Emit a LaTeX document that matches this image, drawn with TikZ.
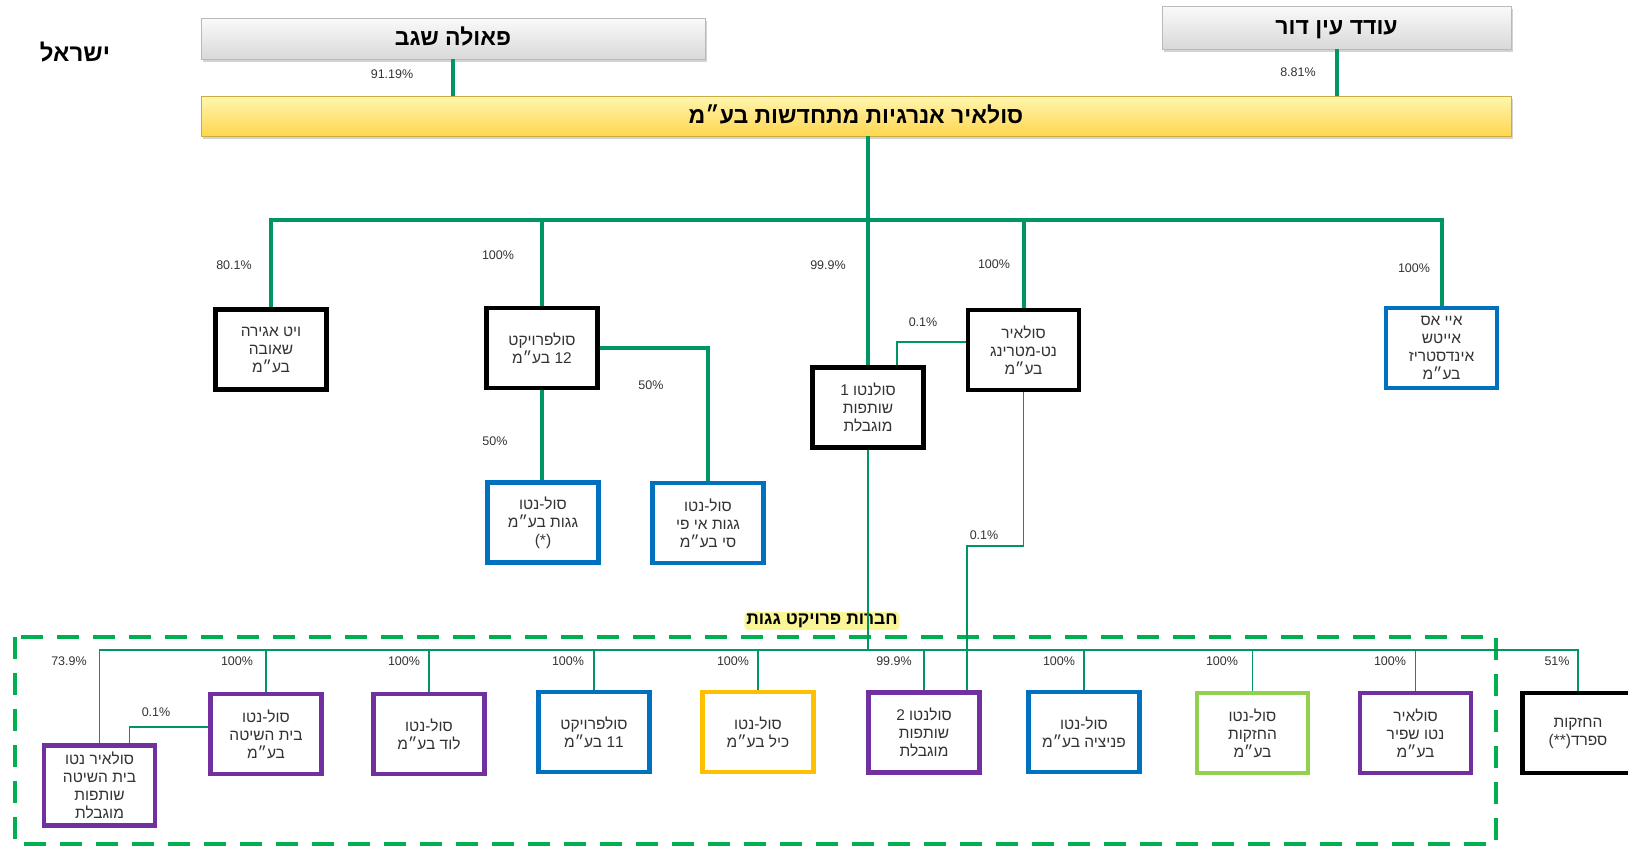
\documentclass[tikz,border=0pt]{standalone}
\usepackage{fontspec}
\setmainfont{Liberation Sans}
\newfontfamily\hebfont[Script=Hebrew]{Liberation Sans}
\TeXXeTstate=1
\usetikzlibrary{shadows}
\newcommand\HB[1]{\beginR #1\endR}
\definecolor{conG}{RGB}{0,150,100}
\definecolor{dashG}{RGB}{0,176,80}
\definecolor{blueC}{RGB}{0,112,192}
\definecolor{purpleC}{RGB}{112,48,160}
\definecolor{orangeC}{RGB}{255,192,0}
\definecolor{lgreenC}{RGB}{146,208,80}
\definecolor{yTop}{RGB}{255,246,175}
\definecolor{yBot}{RGB}{255,214,80}
\definecolor{glowY}{RGB}{250,245,150}
\begin{document}
\begin{tikzpicture}[x=1pt,y=-1pt,
  box/.style={draw, line width=4.5pt, fill=white, minimum width=111pt, minimum height=80pt,
    inner sep=2pt, align=center, font=\hebfont\fontsize{15.5}{18}\selectfont, text=black!80},
  bk/.style={box, draw=black},
  bl/.style={box, draw=blueC},
  pu/.style={box, draw=purpleC},
  og/.style={box, draw=orangeC},
  lg/.style={box, draw=lgreenC},
  graybox/.style={draw=gray!55, line width=0.8pt, top color=gray!4, bottom color=gray!30,
    drop shadow={shadow xshift=2pt, shadow yshift=-3pt, opacity=0.35},
    text height=17pt, text depth=3pt,
    font=\hebfont\bfseries\fontsize{23}{25}\selectfont},
  yellowbox/.style={draw=yBot!80!black, line width=0.8pt, top color=yTop, bottom color=yBot,
    drop shadow={shadow xshift=2pt, shadow yshift=-3pt, opacity=0.35},
    text height=17pt, text depth=3pt,
    font=\hebfont\bfseries\fontsize{23}{25}\selectfont},
  isrstyle/.style={font=\hebfont\bfseries\fontsize{24}{26}\selectfont},
  grptitle/.style={fill=glowY, rounded corners=4pt, inner sep=2pt,
    font=\hebfont\bfseries\fontsize{17.5}{19}\selectfont},
  pct/.style={font=\fontsize{12.5}{14}\selectfont, text=black!80, inner sep=1pt},
  thickline/.style={draw=conG, line width=4pt},
  thinline/.style={draw=conG, line width=1.6pt},
  grpframe/.style={draw=dashG, line width=3.5pt, dash pattern=on 22pt off 14pt}
]
\useasboundingbox (0,0) rectangle (1628,846);

% group frame and title
\draw[grpframe] (15,637) rectangle (1496,844);
\node[grptitle] (grp) at (822,621) {\HB{חברות פרויקט גגות}};

% top
\node[isrstyle] (isr) at (75,52) {\HB{ישראל}};
\node[graybox, minimum width=504pt, minimum height=41pt] (paula) at (453,38.5) {\HB{פאולה שגב}};
\node[graybox, minimum width=349pt, minimum height=43pt] (oded) at (1336.5,27.5) {\HB{עודד עין דור}};
\node[yellowbox, minimum width=1310pt, minimum height=40pt] (solair) at (856,116) {\HB{סולאיר אנרגיות מתחדשות בע״מ}};

% middle row
\node[bk] (wayt) at (271,349.5) {\HB{ויט אגירה}\\\HB{שאובה}\\\HB{בע״מ}};
\node[bk] (sp12) at (542,348) {\HB{סולפרויקט}\\\HB{12 בע״מ}};
\node[bl] (gagot) at (543,522.5) {\HB{סול-נטו}\\\HB{גגות בע״מ}\\(*)};
\node[bl] (ipc) at (708,523) {\HB{סול-נטו}\\\HB{גגות אי פי}\\\HB{סי בע״מ}};
\node[bk] (sn1) at (868,407.5) {\HB{סולנטו 1}\\\HB{שותפות}\\\HB{מוגבלת}};
\node[bk] (nm) at (1023.5,350) {\HB{סולאיר}\\\HB{נט-מטרינג}\\\HB{בע״מ}};
\node[bl] (ishi) at (1441.5,348) {\HB{איי אס}\\\HB{אייטש}\\\HB{אינדסטריז}\\\HB{בע״מ}};

% bottom row
\node[pu] (b1) at (99.5,785.5) {\HB{סולאיר נטו}\\\HB{בית השיטה}\\\HB{שותפות}\\\HB{מוגבלת}};
\node[pu] (b2) at (266,734) {\HB{סול-נטו}\\\HB{בית השיטה}\\\HB{בע״מ}};
\node[pu] (b3) at (429,734) {\HB{סול-נטו}\\\HB{לוד בע״מ}};
\node[bl] (b4) at (594,732) {\HB{סולפרויקט}\\\HB{11 בע״מ}};
\node[og] (b5) at (758,732) {\HB{סול-נטו}\\\HB{כיל בע״מ}};
\node[pu] (b6) at (924,732.5) {\HB{סולנטו 2}\\\HB{שותפות}\\\HB{מוגבלת}};
\node[bl] (b7) at (1084,732) {\HB{סול-נטו}\\\HB{פניציה בע״מ}};
\node[lg] (b8) at (1252.5,733) {\HB{סול-נטו}\\\HB{החזקות}\\\HB{בע״מ}};
\node[pu] (b9) at (1415.5,733) {\HB{סולאיר}\\\HB{נטו שפיר}\\\HB{בע״מ}};
\node[bk] (b10) at (1578,733) {\HB{החזקות}\\(**)\HB{ספרד}};

% thick connectors
\coordinate (bus) at (868,220);
\draw[thickline] (paula.south) -- (paula.south |- solair.north);
\draw[thickline] (oded.south) -- (oded.south |- solair.north);
\draw[thickline] (sn1.north |- solair.south) -- (sn1.north);
\draw[thickline] (wayt.north) -- (wayt.north |- bus) -| (ishi.north);
\draw[thickline] (sp12.north |- bus) -- (sp12.north);
\draw[thickline] (nm.north |- bus) -- (nm.north);
\draw[thickline] (sp12.south) -- (sp12.south |- gagot.north);
\draw[thickline] (sp12.east) -| (ipc.north);

% thin connectors
\coordinate (j2) at (967,546);
\coordinate (bbus) at (100,650);
\draw[thinline] ([yshift=8pt]nm.west) -| ([xshift=29pt]sn1.north);
\draw[thinline] (nm.south) |- (j2) -- (j2 |- b6.north);
\draw[thinline] (sn1.south) -- (sn1.south |- bbus);
\draw[thinline] (b1.north) -- (b1.north |- bbus) -| (b10.north);
\foreach \b in {b2,b3,b4,b5,b6,b7,b8,b9}
  \draw[thinline] (\b.north |- bbus) -- (\b.north);
\draw[thinline] ([yshift=7pt]b2.west) -| ([xshift=30pt]b1.north);

% percentage labels
\node[pct] (l1) at (392,74) {91.19\%};
\node[pct] (l2) at (1298,72) {8.81\%};
\node[pct] (l3) at (234,265) {80.1\%};
\node[pct] (l4) at (498,255) {100\%};
\node[pct] (l5) at (828,265) {99.9\%};
\node[pct] (l6) at (994,264) {100\%};
\node[pct] (l7) at (1414,268) {100\%};
\node[pct] (l8) at (495,441) {50\%};
\node[pct] (l9) at (651,385) {50\%};
\node[pct] (l10) at (923,322) {0.1\%};
\node[pct] (l11) at (984,535) {0.1\%};
\node[pct] (l12) at (69,661) {73.9\%};
\node[pct] (l13) at (237,661) {100\%};
\node[pct] (l14) at (156,712) {0.1\%};
\node[pct] (l15) at (404,661) {100\%};
\node[pct] (l16) at (568,661) {100\%};
\node[pct] (l17) at (733,661) {100\%};
\node[pct] (l18) at (894,661) {99.9\%};
\node[pct] (l19) at (1059,661) {100\%};
\node[pct] (l20) at (1222,661) {100\%};
\node[pct] (l21) at (1390,661) {100\%};
\node[pct] (l22) at (1557,661) {51\%};
\end{tikzpicture}
\end{document}
